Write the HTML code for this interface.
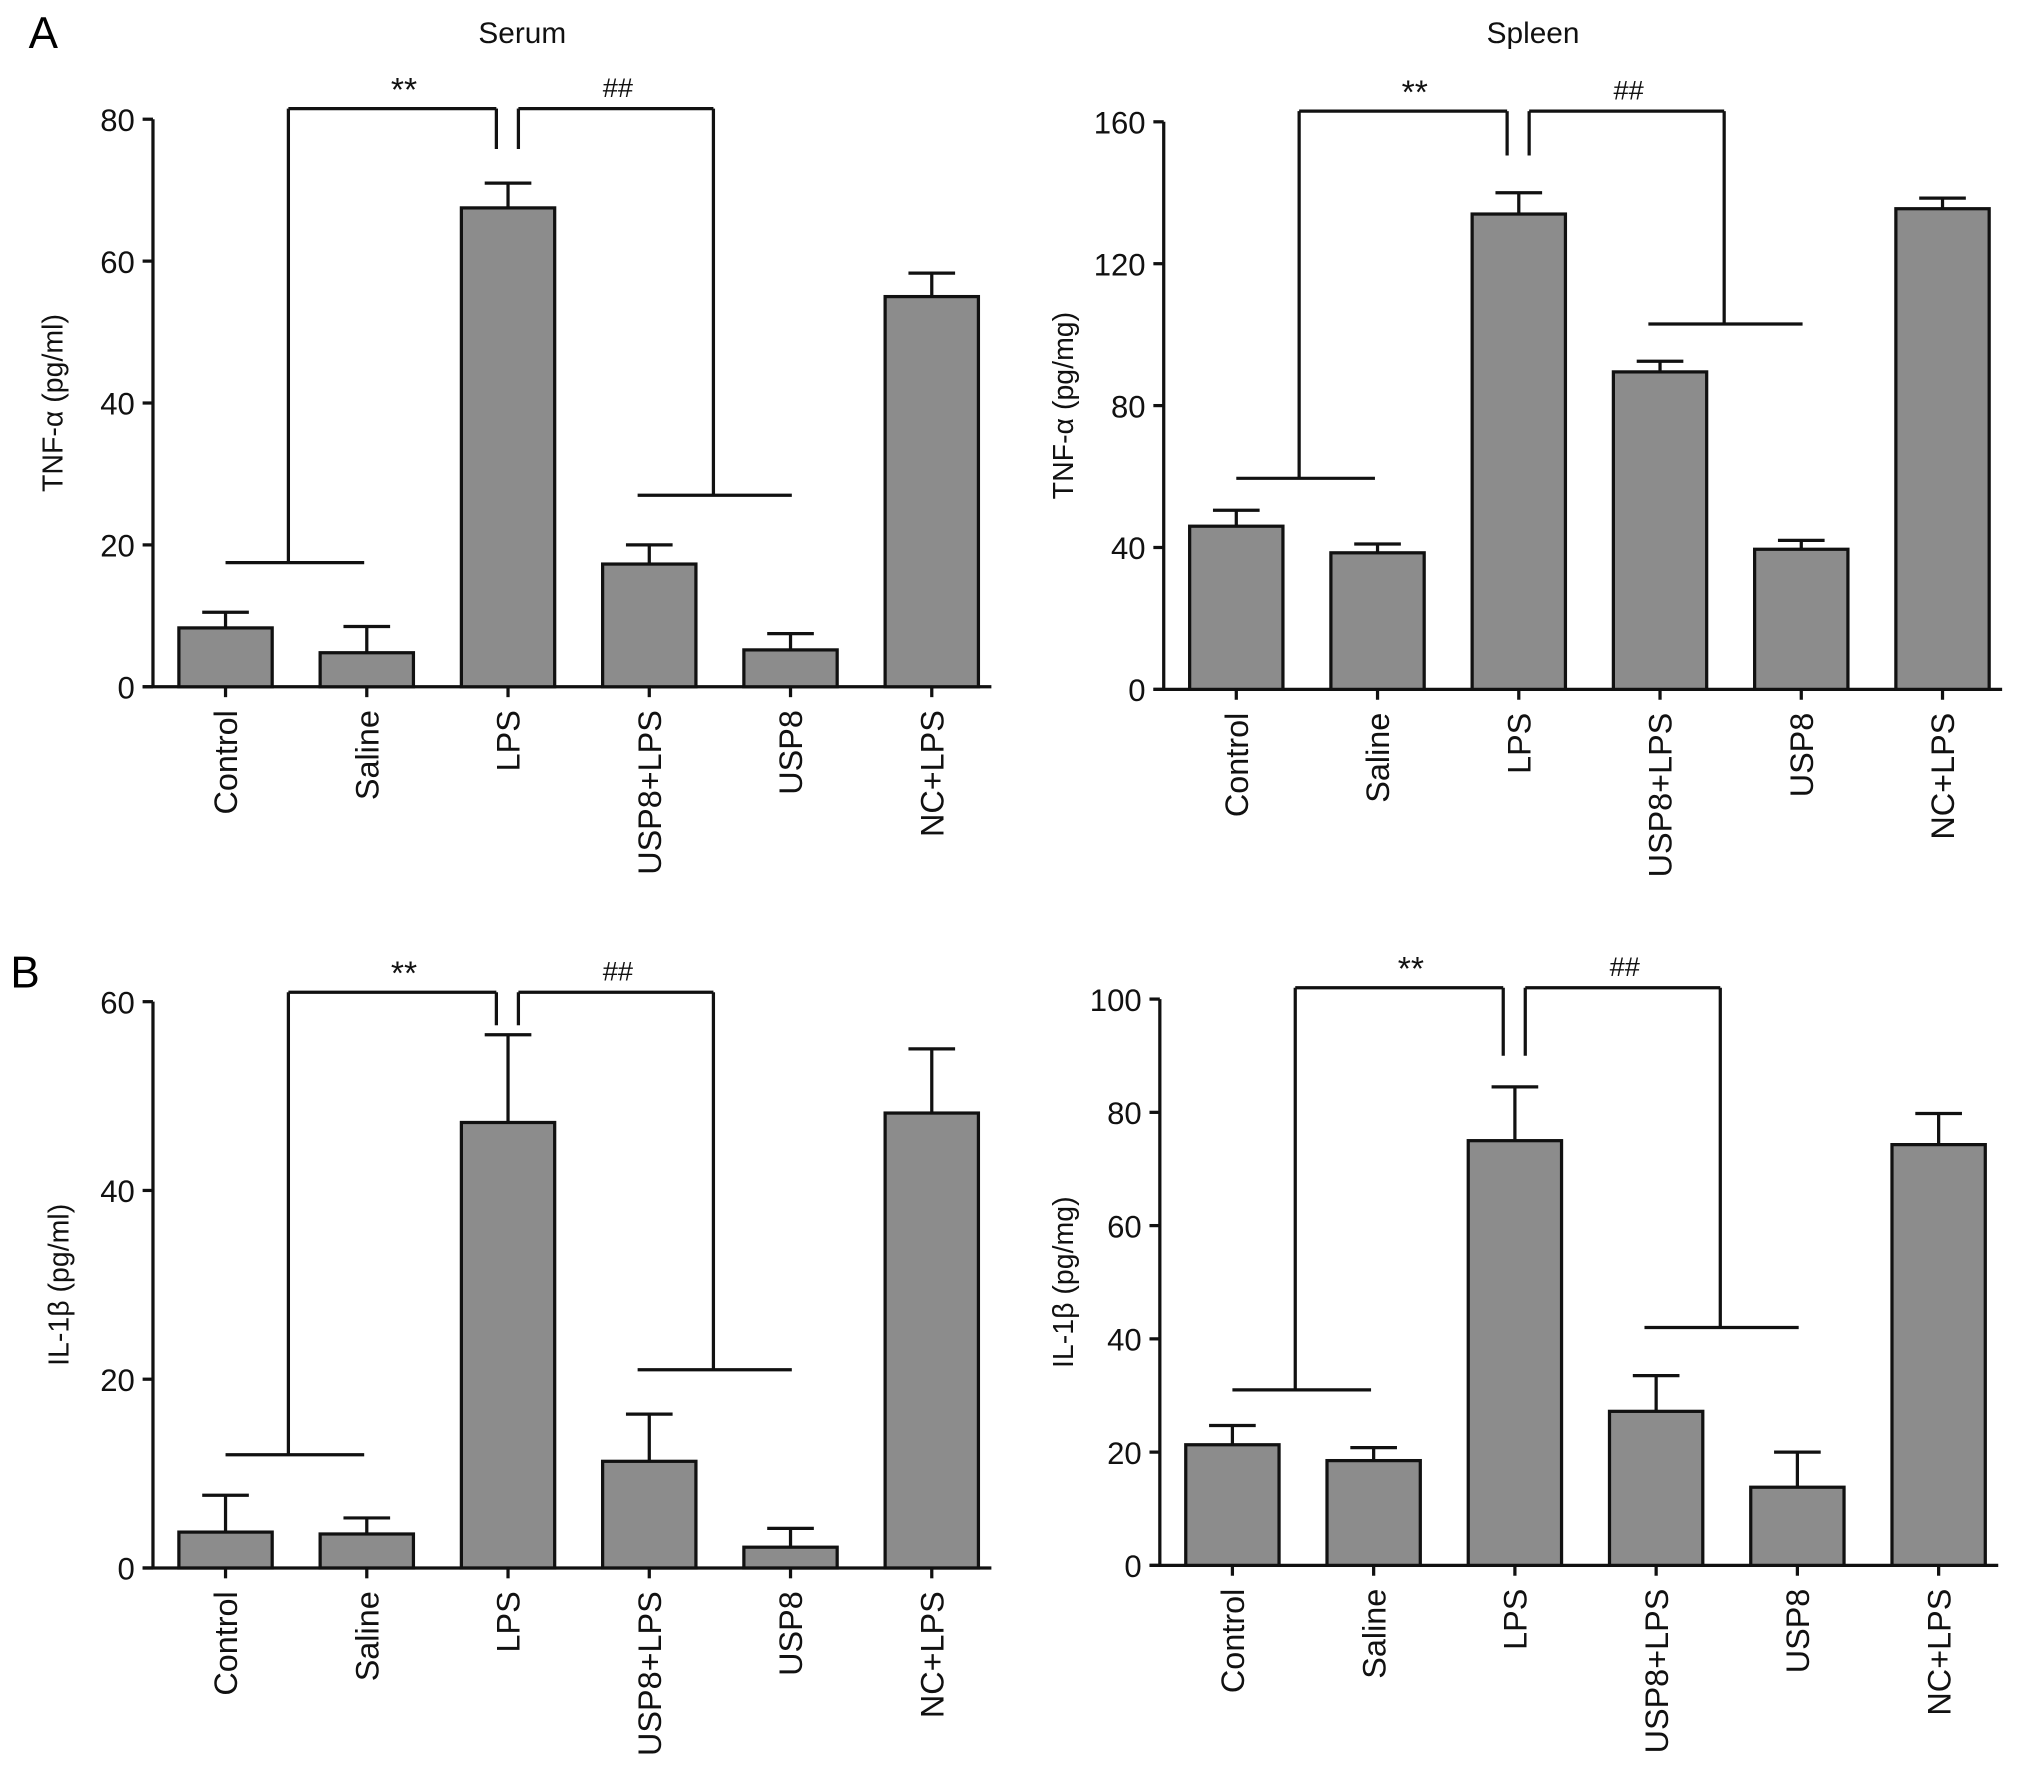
<!DOCTYPE html>
<html><head><meta charset="utf-8"><style>
html,body{margin:0;padding:0;background:#fff;}
svg{display:block;font-family:"Liberation Sans",Arial,sans-serif;}
</style></head><body>
<svg id="fig" width="2032" height="1774" viewBox="0 0 1568 1369" xmlns="http://www.w3.org/2000/svg">
<text x="22" y="37" font-size="34">A</text>
<text x="8" y="762" font-size="34">B</text>
</svg>
<script>
const categories = ["Control","Saline","LPS","USP8+LPS","USP8","NC+LPS"];
const serumTnfValues = [8.3, 4.8, 67.5, 17.3, 5.2, 55];
const serumTnfErrTop = [10.5, 8.5, 71, 20, 7.5, 58.3];
const spleenTnfValues = [46, 38.5, 134, 89.5, 39.5, 135.5];
const spleenTnfErrTop = [50.5, 41, 140, 92.5, 42, 138.5];
const serumIlValues = [3.8, 3.6, 47.2, 11.3, 2.2, 48.2];
const serumIlErrTop = [7.7, 5.3, 56.5, 16.3, 4.2, 55];
const spleenIlValues = [21.3, 18.5, 75, 27.2, 13.8, 74.3];
const spleenIlErrTop = [24.7, 20.8, 84.5, 33.5, 20, 79.8];
const serumTnfTicks = [0,20,40,60,80];
const spleenTnfTicks = [0,40,80,120,160];
const serumIlTicks = [0,20,40,60];
const spleenIlTicks = [0,20,40,60,80,100];
// bracket levels in data units: [top, inner drop, left group drop, right group drop]
const serumTnfBrackets = [81.5, 75.8, 17.5, 27];
const spleenTnfBrackets = [163, 150.5, 59.5, 103];
const serumIlBrackets = [61, 57.5, 12, 21];
const spleenIlBrackets = [102, 90, 31, 42];

const NS = "http://www.w3.org/2000/svg";
const svg = document.getElementById('fig');
function mk(tag, attrs, parent){ const e=document.createElementNS(NS,tag); for(const k in attrs) e.setAttribute(k,attrs[k]); (parent||svg).appendChild(e); return e; }

function panel(p){
  const g = mk('g',{});
  
  
  const ymax = p.ticks[p.ticks.length-1];
  const y = v => p.y0 - (v/ymax)*(p.y0-p.ytop);
  const x = i => p.x0 + 56 + i*109;
  const L = (x1,y1,x2,y2,nm) => { const l=mk('line',{x1,y1,x2,y2,stroke:'#111','stroke-width':2.5},g);   return l; };
  L(p.x0, p.ytop, p.x0, p.y0, 'y-axis');
  L(p.x0-8, p.y0, p.x0+647, p.y0, 'x-axis');
  p.ticks.forEach(t=>{
    L(p.x0-8, y(t), p.x0, y(t), 'y-tick');
    const tx = mk('text',{x:p.x0-14, y:y(t)+9, 'font-size':24, 'text-anchor':'end', fill:'#111'},g);
    tx.textContent = t;
    
    
  });
  const yl = mk('text',{x:0,y:0,'font-size':22,'text-anchor':'middle',fill:'#111',transform:`translate(${p.ylx},${(p.y0+p.ytop)/2}) rotate(-90)`},g);
  yl.textContent = p.ylabel;
  
  
  if(p.title){ const t=mk('text',{x:p.x0+285,y:33,'font-size':23,'text-anchor':'middle',fill:'#111'},g); t.textContent=p.title;   }
  categories.forEach((c,i)=>{
    const cx = x(i);
    L(cx, y(p.vals[i]), cx, y(p.err[i]), 'error-bar');
    L(cx-18, y(p.err[i]), cx+18, y(p.err[i]), 'error-cap');
    const r = mk('rect',{x:cx-36, y:y(p.vals[i]), width:72, height:p.y0-y(p.vals[i]), fill:'#8c8c8c', stroke:'#111','stroke-width':2.5},g);
    
    
    L(cx, p.y0, cx, p.y0+8, 'x-tick');
    const t = mk('text',{x:0,y:0,'font-size':25,'text-anchor':'end',fill:'#111',transform:`translate(${cx+9},${p.y0+18}) rotate(-90)`},g);
    t.textContent = c;
    
    
  });
  const b = p.br;
  const lx = (x(0)+x(1))/2 - 6, mL = x(2)-9, mR = x(2)+8, rx = (x(3)+x(4))/2 - 6;
  L(lx, y(b[0]), mL, y(b[0]), 'bracket-lps-vs-control');
  L(lx, y(b[0]), lx, y(b[2]), 'bracket-drop');
  L(mL, y(b[0]), mL, y(b[1]), 'bracket-drop');
  L(x(0), y(b[2]), x(1)-2, y(b[2]), 'bracket-crossbar');
  L(mR, y(b[0]), rx+1, y(b[0]), 'bracket-usp8-vs-lps');
  L(mR, y(b[0]), mR, y(b[1]), 'bracket-drop');
  L(rx+1, y(b[0]), rx+1, y(b[3]), 'bracket-drop');
  L(x(3)-9, y(b[3]), x(4)+1, y(b[3]), 'bracket-crossbar');
  const s1 = mk('text',{x:(lx+mL)/2+9,y:y(b[0])-6,'font-size':26,'text-anchor':'middle',fill:'#111'},g); s1.textContent='**';
   
  const s2 = mk('text',{x:(mR+rx)/2+2,y:y(b[0])-9,'font-size':21,'text-anchor':'middle',fill:'#111'},g); s2.textContent='##';
   
}

panel({name:'serum-tnf-chart', x0:118, y0:530, ytop:92, ticks:serumTnfTicks, vals:serumTnfValues, err:serumTnfErrTop, br:serumTnfBrackets, ylabel:'TNF-α (pg/ml)', ylx:48, title:'Serum'});
panel({name:'spleen-tnf-chart', x0:898, y0:532, ytop:94, ticks:spleenTnfTicks, vals:spleenTnfValues, err:spleenTnfErrTop, br:spleenTnfBrackets, ylabel:'TNF-α (pg/mg)', ylx:828, title:'Spleen'});
panel({name:'serum-il1b-chart', x0:118, y0:1210, ytop:773, ticks:serumIlTicks, vals:serumIlValues, err:serumIlErrTop, br:serumIlBrackets, ylabel:'IL-1β (pg/ml)', ylx:53});
panel({name:'spleen-il1b-chart', x0:895, y0:1208, ytop:771, ticks:spleenIlTicks, vals:spleenIlValues, err:spleenIlErrTop, br:spleenIlBrackets, ylabel:'IL-1β (pg/mg)', ylx:828});
</script>
</body></html>
